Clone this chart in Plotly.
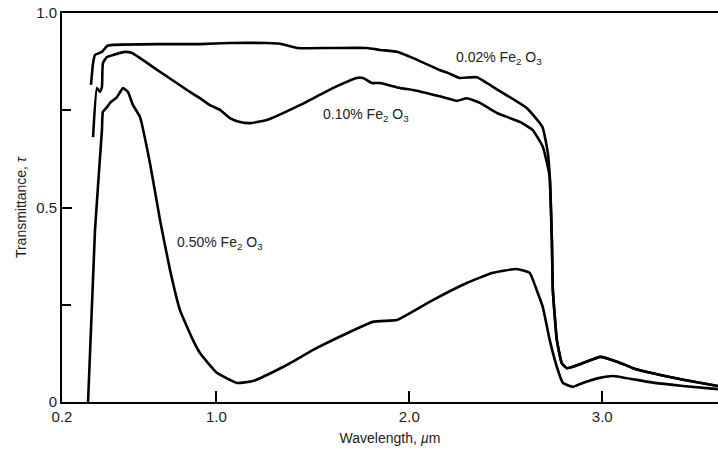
import plotly.graph_objects as go

# Wavelength (µm) and transmittance for three Fe2O3 concentrations
wl_002 = [0.350, 0.361, 0.371, 0.407, 0.433, 0.464, 0.70, 0.915, 1.07, 1.26, 1.33, 1.42,
          1.60, 1.78, 1.85, 1.94, 2.02, 2.16, 2.20, 2.26, 2.35, 2.45, 2.61, 2.69, 2.718,
          2.728, 2.739, 2.744, 2.765, 2.79, 2.816, 2.90, 2.99, 3.08, 3.16, 3.25, 3.42, 3.60]
tr_002 = [0.815, 0.871, 0.892, 0.900, 0.915, 0.918, 0.920, 0.920, 0.923, 0.923, 0.921, 0.910,
          0.910, 0.910, 0.905, 0.900, 0.884, 0.853, 0.846, 0.833, 0.835, 0.805, 0.755, 0.707, 0.640,
          0.578, 0.416, 0.288, 0.159, 0.100, 0.087, 0.100, 0.116, 0.103, 0.087, 0.075, 0.057, 0.041]

wl_010 = [0.361, 0.381, 0.397, 0.407, 0.412, 0.433, 0.464, 0.526, 0.563, 0.672, 0.848, 0.915,
          0.967, 1.019, 1.070, 1.122, 1.174, 1.262, 1.433, 1.604, 1.728, 1.760, 1.806, 1.848,
          1.951, 2.019, 2.195, 2.247, 2.298, 2.366, 2.454, 2.573, 2.640, 2.692, 2.718, 2.728,
          2.739, 2.744, 2.765, 2.79, 2.816, 2.90, 2.99, 3.08, 3.16, 3.25, 3.42, 3.60]
tr_010 = [0.681, 0.807, 0.797, 0.810, 0.871, 0.887, 0.892, 0.900, 0.897, 0.861, 0.802, 0.781,
          0.763, 0.751, 0.730, 0.720, 0.717, 0.725, 0.763, 0.807, 0.833, 0.833, 0.820, 0.820,
          0.807, 0.802, 0.781, 0.774, 0.781, 0.769, 0.743, 0.720, 0.699, 0.656, 0.604, 0.578,
          0.416, 0.288, 0.159, 0.100, 0.087, 0.100, 0.116, 0.103, 0.087, 0.075, 0.057, 0.041]

wl_050 = [0.335, 0.371, 0.407, 0.412, 0.433, 0.449, 0.485, 0.516, 0.542, 0.568, 0.604, 0.656,
          0.708, 0.760, 0.811, 0.879, 0.915, 1.003, 1.107, 1.190, 1.345, 1.521, 1.692, 1.811,
          1.936, 1.987, 2.122, 2.298, 2.433, 2.557, 2.624, 2.666, 2.692, 2.728, 2.765, 2.796,
          2.848, 2.899, 2.988, 3.055, 3.247, 3.418, 3.60]
tr_050 = [0.0, 0.442, 0.699, 0.746, 0.758, 0.769, 0.784, 0.807, 0.797, 0.763, 0.733, 0.614,
          0.468, 0.339, 0.237, 0.159, 0.126, 0.075, 0.049, 0.054, 0.090, 0.139, 0.180, 0.206,
          0.211, 0.224, 0.262, 0.306, 0.332, 0.342, 0.332, 0.280, 0.244, 0.159, 0.090, 0.049,
          0.039, 0.049, 0.062, 0.067, 0.051, 0.041, 0.033]

labels = ["0.02% Fe<sub>2</sub> O<sub>3</sub>", "0.10% Fe<sub>2</sub> O<sub>3</sub>",
          "0.50% Fe<sub>2</sub> O<sub>3</sub>"]
label_x = [2.464, 1.775, 1.019]
label_y = [0.884, 0.738, 0.409]

x_tickvals = [0.2, 1.0, 2.0, 3.0]
x_ticktext = ["0.2", "1.0", "2.0", "3.0"]
y_tickvals = [0, 0.5, 1.0]
y_ticktext = ["0", "0.5", "1.0"]
y_minor_tickvals = [0.25, 0.75]

FONT = "Liberation Sans, Arial, sans-serif"

fig = go.Figure()
for wl, tr in [(wl_002, tr_002), (wl_010, tr_010), (wl_050, tr_050)]:
    fig.add_trace(go.Scatter(x=wl, y=tr, mode="lines",
                             line=dict(color="black", width=2.6, shape="spline", smoothing=0.4),
                             showlegend=False, hoverinfo="skip"))

for t, x, y in zip(labels, label_x, label_y):
    fig.add_annotation(x=x, y=y, text=t, showarrow=False,
                       font=dict(family=FONT, size=14, color="#222"))

fig.update_layout(
    width=718, height=450,
    margin=dict(l=62, r=0, t=13, b=48),
    paper_bgcolor="white", plot_bgcolor="white",
    font=dict(family=FONT, size=15, color="#222"),
)
fig.update_xaxes(range=[0.2, 3.6], tickvals=x_tickvals, ticktext=x_ticktext,
                 ticks="inside", ticklen=11, tickwidth=1.5, tickcolor="black",
                 tickfont=dict(size=15),
                 showline=True, linecolor="black", linewidth=2, mirror=True,
                 showgrid=False, zeroline=False,
                 title=dict(text="Wavelength, <i>µ</i>m", font=dict(size=14), standoff=9))
fig.update_yaxes(range=[0, 1.0], tickvals=y_tickvals, ticktext=y_ticktext,
                 ticks="inside", ticklen=10, tickwidth=1.5, tickcolor="black",
                 tickfont=dict(size=15),
                 minor=dict(tickvals=y_minor_tickvals, ticks="inside", ticklen=9,
                            tickwidth=1.5, tickcolor="black", showgrid=False),
                 showline=True, linecolor="black", linewidth=2, mirror=False,
                 showgrid=False, zeroline=False,
                 title=dict(text="Transmittance, <i>τ</i>", font=dict(size=14), standoff=6))

fig.write_html("out.html")
